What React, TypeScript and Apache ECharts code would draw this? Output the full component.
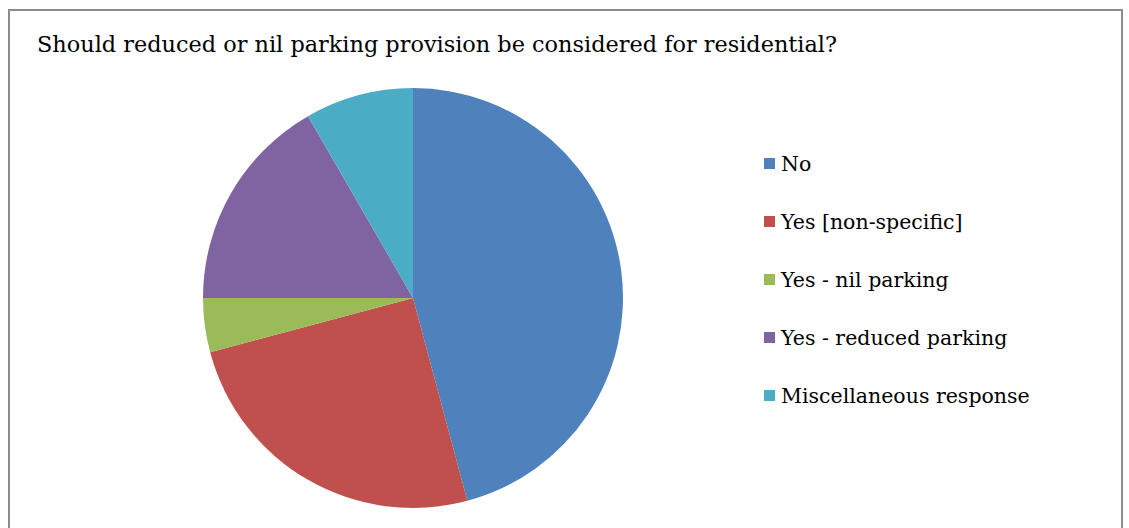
import React, { useEffect, useRef } from "react";
import * as echarts from "echarts";

const titleText = "Should reduced or nil parking provision be considered for residential?";
const categories = ["No", "Yes [non-specific]", "Yes - nil parking", "Yes - reduced parking", "Miscellaneous response"];
const values = [11, 6, 1, 4, 2];
const colors = ["#4F81BD", "#C0504D", "#9BBB59", "#8064A2", "#4BACC6"];

const FONT = "DejaVu Serif";

export default function App() {
  const ref = useRef<HTMLDivElement>(null);
  useEffect(() => {
    document.body.style.margin = "0";
    const chart = echarts.init(ref.current!, null, { renderer: "svg" });
    chart.setOption({
      animation: false,
      backgroundColor: "#ffffff",
      color: colors,
      title: {
        text: titleText,
        left: 32,
        top: 28,
        textStyle: { fontFamily: FONT, fontSize: 22.4, fontWeight: "normal", color: "#000000" },
      },
      legend: {
        orient: "vertical",
        left: 759,
        top: 148,
        itemWidth: 11,
        itemHeight: 11,
        itemGap: 37,
        icon: "rect",
        data: categories,
        textStyle: { fontFamily: FONT, fontSize: 20.5, color: "#000000", lineHeight: 20, padding: [0, 0, 0, 1] },
      },
      graphic: [
        {
          type: "rect",
          shape: { x: 9, y: 10, width: 1113, height: 540 },
          style: { fill: "none", stroke: "#8c8c8c", lineWidth: 2 },
          z: 100,
        },
      ],
      series: [
        {
          type: "pie",
          center: [413, 298],
          radius: 210,
          startAngle: 90,
          clockwise: true,
          label: { show: false },
          labelLine: { show: false },
          emphasis: { disabled: true },
          itemStyle: { borderWidth: 0 },
          data: categories.map((c, i) => ({ name: c, value: values[i] })),
        },
      ],
    });
    return () => chart.dispose();
  }, []);
  return <div ref={ref} style={{ width: 1129, height: 528 }} />;
}
